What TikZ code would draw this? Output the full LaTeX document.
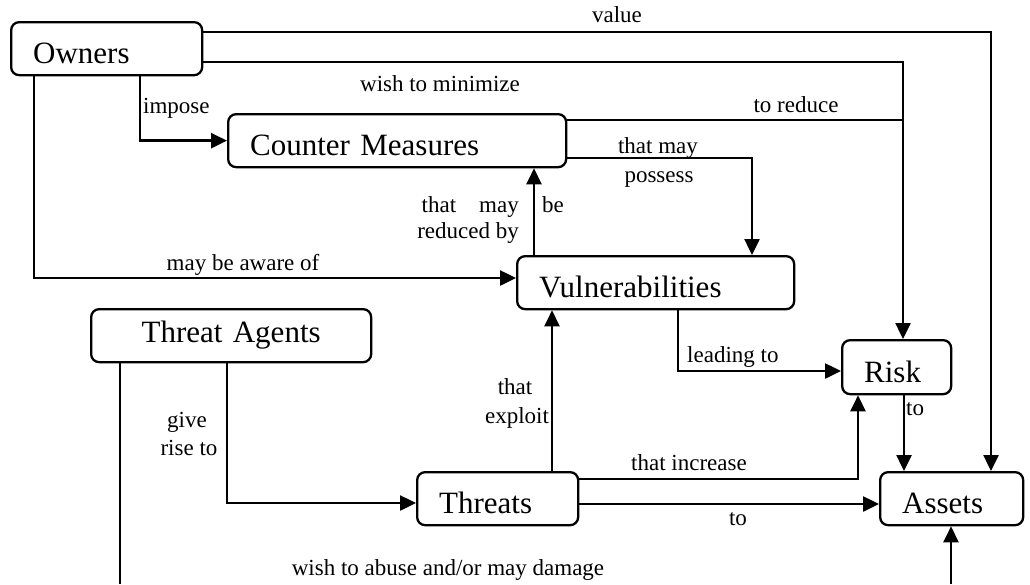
\documentclass[tikz,border=0pt]{standalone}
\usepackage{fontspec}
\setmainfont{Liberation Serif}
\usetikzlibrary{arrows.meta}
\newcommand\boxfont{\fontsize{31}{36}\selectfont}
\newcommand\labfont{\fontsize{23}{27}\selectfont}

\begin{document}
\begin{tikzpicture}[x=1pt,y=-1pt,
  box/.style={draw, line width=2.3pt, rounded corners=8pt, anchor=north west,
    minimum height=53pt, inner xsep=22pt, inner ysep=0pt, align=left,
    font=\boxfont, text height=30pt, text depth=0pt},
  lab/.style={font=\labfont, inner sep=0pt, anchor=base},
  conn/.style={line width=2.5pt},
  arr/.style={conn, -{Triangle[length=16pt,width=15pt]}}]
\useasboundingbox (0,0) rectangle (1030,584);

% entities
\node[box, text width=147pt] (own) at (10,21) {Owners};
\node[box, text width=294pt] (cm) at (227,113) {Counter Measures};
\node[box, text width=233pt] (vul) at (516,255) {Vulnerabilities};
\node[box, text width=236pt, align=center, text height=22pt, text depth=8pt] (ta) at (90,308) {Threat Agents};
\node[box, text width=117pt] (thr) at (416,471) {Threats};
\node[box, text width=65pt, minimum height=54pt] (risk) at (841,339) {Risk};
\node[box, text width=99pt] (ast) at (879,471) {Assets};

% free ends at the lower edge
\coordinate (abuseL) at (120,584);
\coordinate (abuseR) at (951,584);
\coordinate (jr) at (903,120);

% relations
\draw[arr] (own.east |- 0,32) -| (991,0 |- ast.north);
\draw[arr] (own.east |- 0,62) -| (903,0 |- risk.north);
\draw[conn] (cm.east |- jr) -- (jr);
\draw[arr] (cm.east |- 0,158) -| (752,0 |- vul.north);
\draw[arr] (140,0 |- own.south) |- (cm.west);
\draw[arr] (34,0 |- own.south) |- (vul.west |- 0,278);
\draw[arr] (534,0 |- vul.north) -- (534,0 |- cm.south);
\draw[arr] (678,0 |- vul.south) |- (risk.west |- 0,371);
\draw[arr] (552,0 |- thr.north) -- (552,0 |- vul.south);
\draw[arr] (thr.east |- 0,479) -| (858,0 |- risk.south);
\draw[arr] (thr.east |- 0,504) -- (ast.west |- 0,504);
\draw[arr] (904,0 |- risk.south) -- (904,0 |- ast.north);
\draw[arr] (227,0 |- ta.south) |- (thr.west |- 0,503);
\draw[conn] (120,0 |- ta.south) -- (abuseL);
\draw[arr] (abuseR) -- (951,0 |- ast.south);

% relation labels
\node[lab] (lval) at (617,22) {value};
\node[lab] (lmin) at (440,91) {wish to minimize};
\node[lab] (lred) at (796,112) {to reduce};
\node[lab] (lmay) at (658,153) {that may};
\node[lab] (lpos) at (659,182) {possess};
\node[lab, anchor=base west] (limp) at (143,113) {impose};
\node[lab] (lawa) at (243,270) {may be aware of};
\node[lab, anchor=base east] (lthm) at (519,212) {that\hspace{23pt}may};
\node[lab, anchor=base east] (lrby) at (519,238) {reduced by};
\node[lab, anchor=base west] (lbe) at (542,212) {be};
\node[lab, anchor=base west] (llead) at (687,362) {leading to};
\node[lab] (lth) at (515,394) {that};
\node[lab] (lexp) at (517,423) {exploit};
\node[lab] (lgive) at (187,427) {give};
\node[lab] (lrise) at (189,455) {rise to};
\node[lab] (linc) at (689,470) {that increase};
\node[lab] (lto) at (738,525) {to};
\node[lab, anchor=base west] (lto2) at (906,415) {to};
\node[lab] (labu) at (448,575) {wish to abuse and/or may damage};
\end{tikzpicture}
\end{document}
